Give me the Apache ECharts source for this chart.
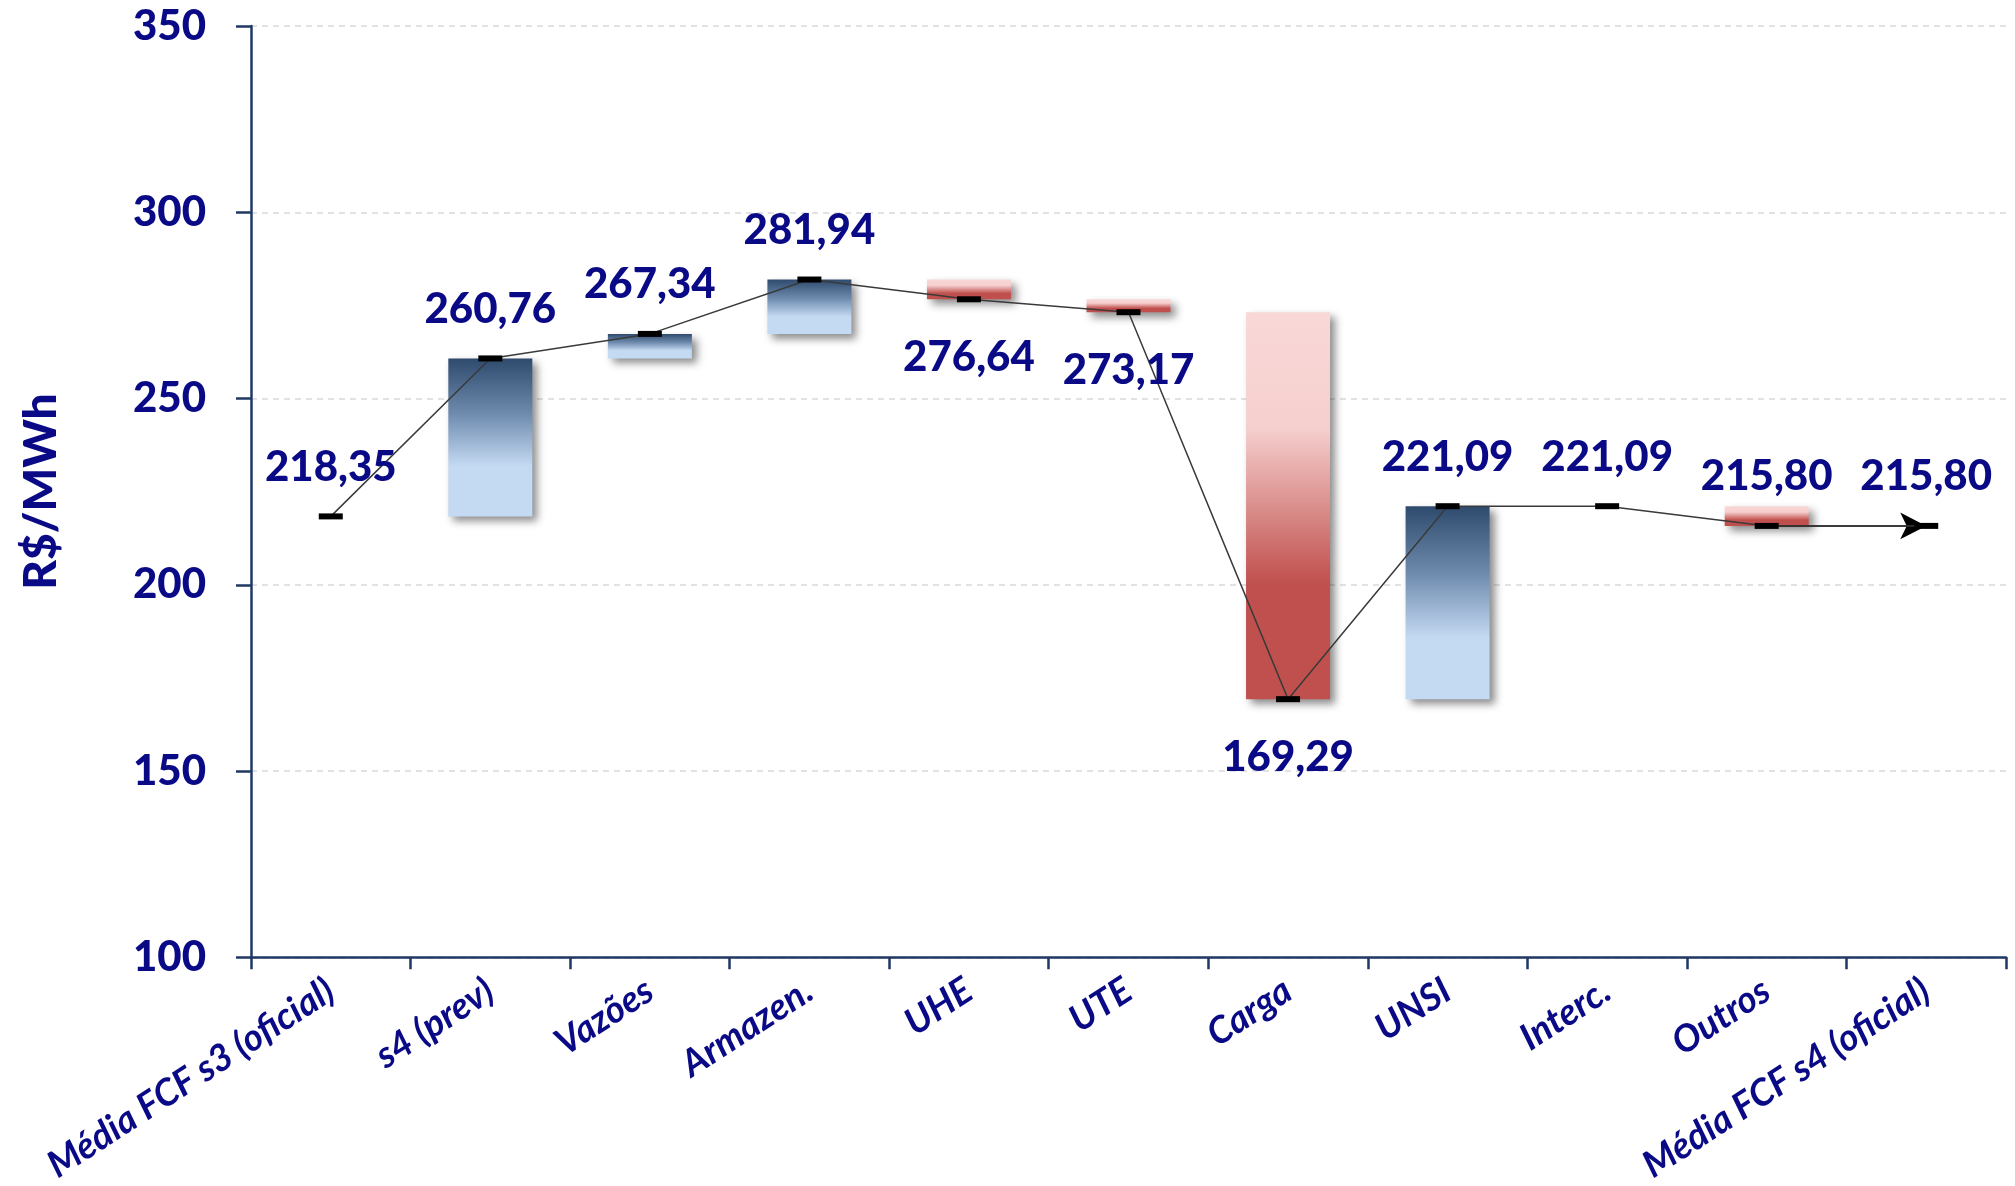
<!DOCTYPE html>
<html>
<head>
<meta charset="utf-8">
<title>CMO waterfall</title>
<script src="https://cdn.jsdelivr.net/npm/echarts@6/dist/echarts.min.js"></script>
<style>
  html, body { margin: 0; padding: 0; background: #fff; }
  #main { width: 2015px; height: 1186px; }
</style>
</head>
<body>
<div id="main"></div>
<script>
// categorias e valores (R$/MWh)
var categorias = ['Média FCF s3 (oficial)', 's4 (prev)', 'Vazões', 'Armazen.', 'UHE', 'UTE', 'Carga', 'UNSI', 'Interc.', 'Outros', 'Média FCF s4 (oficial)'];
var valores = [218.35, 260.76, 267.34, 281.94, 276.64, 273.17, 169.29, 221.09, 221.09, 215.80, 215.80];
var yTicks = [100, 150, 200, 250, 300, 350];

// indices com rotulo abaixo do marcador
var rotuloAbaixo = [4, 5, 6];

var azul = '#0a0a87';
var eixo = '#1f3864';

// monta base / subida / descida do waterfall
var base = [], sobe = [], desce = [];
for (var i = 0; i < valores.length; i++) {
    if (i == 0 || i == valores.length - 1) {
        base.push('-'); sobe.push('-'); desce.push('-');
        continue;
    }
    var ant = valores[i - 1], cur = valores[i];
    base.push(Math.min(ant, cur));
    sobe.push(cur > ant ? +(cur - ant).toFixed(2) : '-');
    desce.push(cur < ant ? +(ant - cur).toFixed(2) : '-');
}

var pontos = valores.map(function (v, i) {
    var abaixo = rotuloAbaixo.indexOf(i) >= 0;
    return {
        value: v,
        label: { position: abaixo ? 'bottom' : 'top', distance: abaixo ? 34 : 25 }
    };
});

var sombra = {
    shadowColor: 'rgba(0,0,0,0.45)',
    shadowBlur: 8,
    shadowOffsetX: 5,
    shadowOffsetY: 5
};

var chart = echarts.init(document.getElementById('main'));
option = {
    animation: false,
    backgroundColor: '#fff',
    grid: {
        left: 251,
        right: 9,
        top: 26,
        bottom: 227
    },
    xAxis: {
        type: 'category',
        data: categorias,
        axisLine: { lineStyle: { color: eixo, width: 2.5 } },
        axisTick: { show: true, length: 12, lineStyle: { color: eixo, width: 2.5 } },
        axisLabel: {
            interval: 0,
            rotate: 33,
            margin: 30,
            color: azul,
            fontFamily: 'Lato',
            fontStyle: 'italic',
            fontWeight: 'bold',
            fontSize: 37
        }
    },
    yAxis: {
        type: 'value',
        min: yTicks[0],
        max: yTicks[yTicks.length - 1],
        interval: 50,
        name: 'R$/MWh',
        nameLocation: 'middle',
        nameGap: 187,
        nameTextStyle: {
            color: azul,
            fontFamily: 'Lato',
            fontWeight: 900,
            fontSize: 46
        },
        axisLine: { show: true, lineStyle: { color: eixo, width: 2.5 } },
        axisTick: { show: true, length: 15, lineStyle: { color: eixo, width: 2.5 } },
        axisLabel: {
            margin: 45,
            color: azul,
            fontFamily: 'Lato',
            fontWeight: 900,
            fontSize: 42
        },
        splitLine: { lineStyle: { color: '#d9d9d9', type: [6, 5], width: 1.5 } }
    },
    series: [
        {
            name: 'base',
            type: 'bar',
            stack: 'wf',
            barWidth: 84,
            silent: true,
            itemStyle: { color: 'rgba(0,0,0,0)' },
            data: base
        },
        {
            name: 'sobe',
            type: 'bar',
            stack: 'wf',
            barWidth: 84,
            itemStyle: Object.assign({
                color: new echarts.graphic.LinearGradient(0, 0, 0, 1, [
                    { offset: 0, color: '#2e4a6c' },
                    { offset: 0.35, color: '#6e8bae' },
                    { offset: 0.68, color: '#c4d9f2' },
                    { offset: 1, color: '#c4d9f2' }
                ])
            }, sombra),
            data: sobe
        },
        {
            name: 'desce',
            type: 'bar',
            stack: 'wf',
            barWidth: 84,
            itemStyle: Object.assign({
                color: new echarts.graphic.LinearGradient(0, 0, 0, 1, [
                    { offset: 0, color: '#f9d8d7' },
                    { offset: 0.3, color: '#f5cfce' },
                    { offset: 0.7, color: '#c0504d' },
                    { offset: 1, color: '#c0504d' }
                ])
            }, sombra),
            data: desce
        },
        {
            name: 'CMO',
            type: 'line',
            z: 5,
            symbol: 'rect',
            symbolSize: [24, 6],
            itemStyle: { color: '#000' },
            lineStyle: { color: '#3a3a3a', width: 1.5 },
            label: {
                show: true,
                color: azul,
                fontFamily: 'Lato',
                fontWeight: 900,
                fontSize: 42,
                formatter: function (p) {
                    return p.value.toFixed(2).replace('.', ',');
                }
            },
            data: pontos,
            markLine: {
                silent: true,
                symbol: ['none', 'arrow'],
                symbolSize: [20, 26],
                label: { show: false },
                lineStyle: { color: '#000', width: 1.5, type: 'solid' },
                data: [[
                    { coord: [categorias[9], valores[9]] },
                    { coord: [categorias[10], valores[10]] }
                ]]
            }
        }
    ]
};
chart.setOption(option);
</script>
</body>
</html>
